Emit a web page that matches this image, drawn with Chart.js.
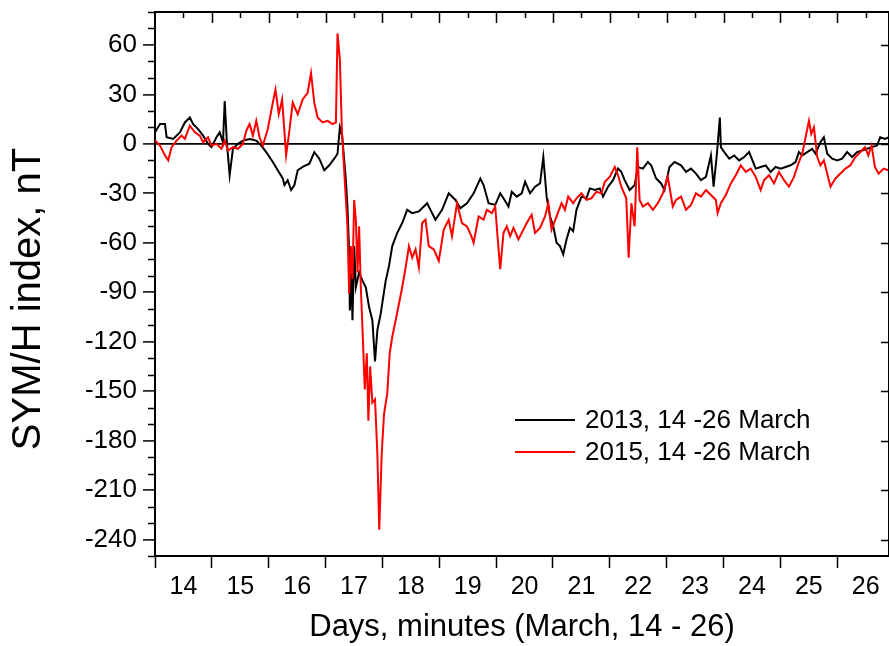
<!DOCTYPE html>
<html>
<head>
<meta charset="utf-8">
<title>SYM/H index, 14 - 26 March 2013 and 2015</title>
<script src="https://cdn.jsdelivr.net/npm/chart.js@4.4.1/dist/chart.umd.min.js"></script>
<style>
    html, body { margin: 0; padding: 0; background: #fff; }
    #chart-symh { display: block; }
</style>
</head>
<body>
<canvas id="chart-symh" width="889" height="646"></canvas>
<script>
// time in days of March, SYM/H in nT
const days2013 = [
    14.000, 14.088, 14.175, 14.205, 14.320, 14.438, 14.525, 14.613, 14.671, 14.758, 14.846, 14.933, 14.993,
    15.081, 15.138, 15.196, 15.226, 15.266, 15.313, 15.371, 15.459, 15.546, 15.664, 15.781, 15.869, 15.956,
    16.072, 16.159, 16.247, 16.277, 16.334, 16.394, 16.452, 16.510, 16.597, 16.715, 16.802, 16.890, 16.977,
    17.065, 17.152, 17.210, 17.252, 17.292, 17.357, 17.385, 17.415, 17.427, 17.455, 17.473, 17.503, 17.533,
    17.590, 17.648, 17.708, 17.765, 17.823, 17.870, 17.911, 17.970,
    18.058, 18.116, 18.173, 18.261, 18.348, 18.436, 18.524, 18.641, 18.786, 18.874, 18.933,
    19.049, 19.166, 19.284, 19.371, 19.487, 19.604, 19.722, 19.779, 19.867, 19.984,
    20.072, 20.130, 20.217, 20.275, 20.363, 20.450, 20.510, 20.597, 20.685, 20.772, 20.830, 20.888, 20.947,
    21.005, 21.063, 21.123, 21.180, 21.238, 21.298, 21.355, 21.413, 21.501, 21.588, 21.648, 21.736, 21.823, 21.881, 21.968,
    22.056, 22.144, 22.201, 22.261, 22.349, 22.436, 22.494, 22.581, 22.669, 22.727, 22.814, 22.902, 22.961,
    23.049, 23.137, 23.252, 23.340, 23.427, 23.515, 23.602, 23.690, 23.778, 23.825, 23.883, 23.935, 23.953,
    24.012, 24.100, 24.187, 24.275, 24.363, 24.450, 24.508, 24.566, 24.653, 24.741, 24.828, 24.916,
    25.004, 25.091, 25.179, 25.266, 25.326, 25.384, 25.471, 25.559, 25.616, 25.704, 25.764, 25.823, 25.911, 25.998,
    26.086, 26.173, 26.261, 26.349, 26.436, 26.524, 26.611, 26.699, 26.755, 26.842, 26.900
];
const sym2013 = [
    7, 12, 12, 4, 3, 7, 13, 16, 12, 9, 5, 0, -2,
    4, 7, 1, 26, 0, -19, -3, 0, 2, 3, 2, -1, -5,
    -11, -16, -21, -25, -22, -28, -25, -16, -14, -12, -5, -9, -16,
    -13, -9, -6, 10, 5, -22, -38, -66, -101, -78, -107, -62, -87,
    -78, -83, -87, -99, -107, -132, -113, -103,
    -83, -74, -62, -54, -48, -40, -42, -41, -36, -42, -46,
    -40, -30, -34, -39, -36, -30, -21, -25, -36, -37,
    -30, -33, -38, -29, -32, -30, -23, -30, -26, -24, -8, -32, -44,
    -50, -60, -62, -67, -58, -51, -53, -40, -32, -33, -27, -28, -27, -32, -26,
    -22, -15, -17, -22, -28, -25, -14, -15, -11, -13, -21, -24, -28,
    -14, -11, -13, -17, -15, -18, -22, -20, -7, -26, -6, 16, -2,
    -5, -9, -7, -10, -8, -5, -10, -15, -14, -13, -17, -14,
    -15, -14, -13, -11, -5, -7, -5, -3, -6, 1, 4, -6, -9, -10,
    -9, -5, -8, -5, -4, -3, -2, -1, 4, 3, 4
];
const days2015 = [
    14.000, 14.088, 14.175, 14.233, 14.292, 14.380, 14.468, 14.525, 14.613, 14.701, 14.788, 14.846, 14.933, 14.993,
    15.081, 15.168, 15.226, 15.284, 15.371, 15.459, 15.546, 15.606, 15.664, 15.722, 15.781, 15.839, 15.897, 15.984,
    16.072, 16.119, 16.177, 16.236, 16.306, 16.364, 16.422, 16.510, 16.597, 16.685, 16.744, 16.802, 16.860, 16.947,
    17.035, 17.123, 17.182, 17.210, 17.252, 17.287, 17.327, 17.385, 17.415, 17.445, 17.473, 17.503, 17.533, 17.562,
    17.590, 17.620, 17.648, 17.690, 17.725, 17.753, 17.784, 17.823, 17.870, 17.911, 17.944, 17.988,
    18.028, 18.086, 18.128, 18.173, 18.233, 18.291, 18.348, 18.408, 18.466, 18.524, 18.583, 18.641, 18.700, 18.758,
    18.816, 18.904, 18.991,
    19.079, 19.166, 19.224, 19.312, 19.399, 19.487, 19.564, 19.604, 19.692, 19.779, 19.837, 19.925, 19.984,
    20.029, 20.072, 20.130, 20.187, 20.247, 20.305, 20.392, 20.480, 20.538, 20.625, 20.685, 20.772, 20.860, 20.918, 20.975,
    21.063, 21.151, 21.210, 21.268, 21.356, 21.413, 21.501, 21.588, 21.676, 21.764, 21.851, 21.911, 21.998,
    22.086, 22.144, 22.201, 22.289, 22.331, 22.379, 22.436, 22.482, 22.524, 22.581, 22.669, 22.757, 22.844, 22.932,
    23.019, 23.107, 23.165, 23.252, 23.340, 23.427, 23.515, 23.602, 23.690, 23.778, 23.865, 23.895, 23.953,
    24.040, 24.128, 24.215, 24.303, 24.391, 24.478, 24.566, 24.653, 24.713, 24.800, 24.888, 24.975,
    25.063, 25.151, 25.238, 25.326, 25.384, 25.443, 25.502, 25.543, 25.590, 25.648, 25.704, 25.764, 25.823, 25.881, 25.968,
    26.056, 26.144, 26.231, 26.319, 26.406, 26.487, 26.546, 26.604, 26.662, 26.727, 26.816, 26.900
];
const sym2015 = [
    2, -1, -7, -10, -2, 2, 5, 3, 11, 7, 5, 1, 4, -1,
    0, -3, 2, -4, -2, -3, 0, 8, 12, 5, 14, 4, -1, 9,
    25, 33, 18, 27, -7, 8, 25, 18, 27, 31, 43, 25, 16, 13,
    14, 12, 13, 67, 51, 8, -16, -50, -91, -62, -82, -34, -46, -78,
    -50, -87, -111, -149, -127, -168, -135, -157, -155, -188, -234, -188,
    -164, -151, -127, -117, -107, -97, -87, -75, -62, -69, -64, -75, -48, -46,
    -62, -64, -71,
    -52, -46, -56, -36, -48, -50, -56, -60, -44, -46, -40, -42, -38,
    -58, -76, -54, -50, -56, -51, -58, -52, -48, -43, -54, -51, -44, -36, -52,
    -44, -36, -40, -32, -36, -33, -30, -34, -33, -29, -30, -23, -20,
    -14, -19, -26, -33, -69, -36, -50, -2, -34, -38, -36, -40, -36, -30,
    -20, -38, -34, -32, -40, -37, -30, -32, -28, -31, -34, -42, -36,
    -31, -24, -19, -13, -17, -15, -20, -28, -22, -19, -24, -17,
    -22, -26, -20, -11, -6, 4, 14, 6, 10, -8, -13, -10, -18, -26, -21,
    -18, -15, -13, -8, -5, -2, -7, -1, -14, -18, -15, -16
];

const seriesNames = ['2013, 14 -26 March', '2015, 14 -26 March'];
const seriesColors = ['#000000', '#ff0000'];
const dayLabels = ['14', '15', '16', '17', '18', '19', '20', '21', '22', '23', '24', '25', '26'];
const yTickValues = [-240, -210, -180, -150, -120, -90, -60, -30, 0, 30, 60];
const xTitle = 'Days, minutes (March, 14 - 26)';
const yTitle = 'SYM/H index, nT';
const xMin = 14, xMax = 26.91;
const yMin = -250, yMax = 80;

const FONT = "'Liberation Sans', Arial, sans-serif";

function toPoints(days, values) {
    return days.map((d, i) => ({ x: d, y: values[i] }));
}

// top/right frame with inward ticks, left minor ticks, y title and the legend
const framePlugin = {
    id: 'frame',
    afterDraw(chart) {
        const { ctx, chartArea: a, scales: { x, y } } = chart;
        ctx.save();
        ctx.strokeStyle = '#000';
        ctx.lineWidth = 2;
        ctx.beginPath();
        ctx.moveTo(a.left, a.top);
        ctx.lineTo(a.right, a.top);
        ctx.lineTo(a.right, a.bottom);
        ctx.stroke();

        ctx.lineWidth = 1.5;
        ctx.beginPath();
        x.ticks.forEach(t => {
            const px = Math.round(x.getPixelForValue(t.value)) + 0.5;
            if (px < a.left + 2) return;
            const len = Number.isInteger(t.value) ? 11 : 6;
            ctx.moveTo(px, a.top);
            ctx.lineTo(px, a.top + len);
        });
        y.ticks.forEach(t => {
            const py = Math.round(y.getPixelForValue(t.value)) + 0.5;
            if (t.value % 30 === 0) {
                ctx.moveTo(a.right, py);
                ctx.lineTo(a.right - 8, py);
            } else {
                ctx.moveTo(a.left - 7, py);
                ctx.lineTo(a.left, py);
            }
        });
        ctx.stroke();

        // y axis title
        ctx.fillStyle = '#000';
        ctx.font = '40px ' + FONT;
        ctx.textAlign = 'center';
        ctx.textBaseline = 'middle';
        ctx.translate(29, (a.top + a.bottom) / 2 + 15);
        ctx.rotate(-Math.PI / 2);
        ctx.fillText(yTitle, 0, 0);
        ctx.setTransform(1, 0, 0, 1, 0, 0);

        // legend
        ctx.font = '26px ' + FONT;
        ctx.textAlign = 'left';
        seriesNames.forEach((name, i) => {
            const ly = a.top + 408 + i * 32;
            ctx.strokeStyle = seriesColors[i];
            ctx.lineWidth = 2;
            ctx.beginPath();
            ctx.moveTo(a.left + 360, ly);
            ctx.lineTo(a.left + 420, ly);
            ctx.stroke();
            ctx.fillText(name, a.left + 430, ly + 1);
        });
        ctx.restore();
    }
};

new Chart(document.getElementById('chart-symh'), {
    type: 'line',
    data: {
        datasets: [{
            label: seriesNames[0],
            data: toPoints(days2013, sym2013),
            borderColor: seriesColors[0],
            borderWidth: 2,
            pointRadius: 0,
            tension: 0,
            order: 1
        }, {
            label: seriesNames[1],
            data: toPoints(days2015, sym2015),
            borderColor: seriesColors[1],
            borderWidth: 2,
            pointRadius: 0,
            tension: 0,
            order: 0
        }]
    },
    options: {
        responsive: false,
        animation: false,
        layout: { padding: { top: 12, right: -3, left: 0, bottom: 0 } },
        plugins: {
            legend: { display: false },
            tooltip: { enabled: false }
        },
        scales: {
            x: {
                type: 'linear',
                min: xMin,
                max: xMax,
                afterBuildTicks: scale => {
                    const ticks = [];
                    dayLabels.forEach((lab, i) => {
                        ticks.push({ value: xMin + i });
                        if (xMin + i + 0.5 <= xMax) ticks.push({ value: xMin + i + 0.5 });
                    });
                    scale.ticks = ticks;
                },
                afterFit: scale => {
                    scale.height = 90;
                    scale.paddingLeft = 0;
                    scale.paddingRight = 0;
                },
                ticks: {
                    autoSkip: false,
                    maxRotation: 0,
                    padding: 4,
                    color: '#000',
                    font: { family: FONT, size: 25 },
                    callback: value => Number.isInteger(value) ? '' : dayLabels[Math.floor(value) - xMin]
                },
                grid: {
                    drawOnChartArea: false,
                    tickLength: 12,
                    tickWidth: 1.5,
                    tickColor: ctx => Number.isInteger(ctx.tick.value) ? '#000' : 'rgba(0,0,0,0)'
                },
                border: { color: '#000', width: 2 },
                title: {
                    display: true,
                    text: xTitle,
                    color: '#000',
                    font: { family: FONT, size: 31 },
                    padding: { top: 0, bottom: 0 }
                }
            },
            y: {
                min: yMin,
                max: yMax,
                afterBuildTicks: scale => {
                    const ticks = [];
                    for (let v = yMin; v <= yMax; v += 10) ticks.push({ value: v });
                    scale.ticks = ticks;
                },
                afterFit: scale => {
                    scale.width = 155;
                    scale.paddingTop = 0;
                    scale.paddingBottom = 0;
                },
                ticks: {
                    autoSkip: false,
                    padding: 6,
                    color: '#000',
                    font: { family: FONT, size: 26 },
                    callback: value => yTickValues.includes(value) ? String(value) : ''
                },
                grid: {
                    drawOnChartArea: true,
                    color: ctx => (ctx.tick && ctx.tick.value === 0) ? '#000' : 'rgba(0,0,0,0)',
                    lineWidth: 1.8,
                    tickLength: 12,
                    tickWidth: 1.5,
                    tickColor: ctx => yTickValues.includes(ctx.tick.value) ? '#000' : 'rgba(0,0,0,0)'
                },
                border: { color: '#000', width: 2 }
            }
        }
    },
    plugins: [framePlugin]
});
</script>
</body>
</html>
